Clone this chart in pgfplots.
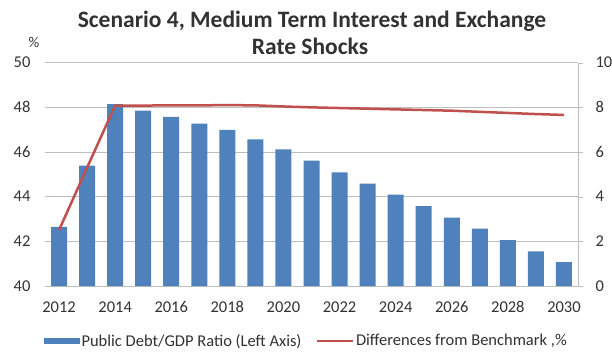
\documentclass[border=0pt]{standalone}
\usepackage{pgfplots}
\pgfplotsset{compat=1.18}
\usepackage{fontspec}
\setmainfont{Carlito}
\definecolor{barblue}{RGB}{79,129,189}
\definecolor{linered}{RGB}{192,80,77}
\definecolor{gridgray}{RGB}{190,190,190}
\definecolor{txtgray}{RGB}{50,50,50}
\begin{document}
\begin{tikzpicture}[x=1pt,y=1pt]
\useasboundingbox (0,0) rectangle (612,356);
\node[font=\bfseries\fontsize{23.5}{26}\selectfont, anchor=base, text=txtgray] at (312,328) {Scenario 4, Medium Term Interest and Exchange};
\node[font=\bfseries\fontsize{23.5}{26}\selectfont, anchor=base, text=txtgray] at (310,301) {Rate Shocks};
\node[font=\fontsize{15}{17}\selectfont, text=txtgray] at (34,314) {\%};
\begin{axis}[
  at={(45pt,70pt)}, anchor=south west,
  scale only axis, width=533pt, height=223.3pt,
  xmin=-0.5, xmax=18.5, ymin=40, ymax=50,
  ytick={40,42,...,50},
  xtick={0,2,...,18},
  xticklabels={2012,2014,2016,2018,2020,2022,2024,2026,2028,2030},
  axis x line*=bottom, axis y line*=left,
  x axis line style={draw=gridgray},
  y axis line style={draw=none},
  major tick length=0pt,
  ymajorgrids, grid style={gridgray},
  tick label style={font=\fontsize{16.5}{18}\selectfont, text=txtgray},
  /pgf/number format/assume math mode=true,
  yticklabel style={xshift=-11pt},
  xticklabel style={yshift=-12pt},
  legend style={draw=none, at={(0.49,-0.246)}, anchor=center,
    legend columns=2, font=\fontsize{16.5}{18}\selectfont, text=txtgray,
    inner xsep=0pt, nodes={inner xsep=2pt},
    /tikz/every even column/.append style={column sep=12pt}},
  legend cell align=left,
]
\addplot[ybar, bar width=16pt, fill=barblue, draw=none,
  legend image code/.code={\fill[barblue] (0pt,-3pt) rectangle (36pt,3pt);}]
  coordinates {
  (0,42.65) (1,45.39) (2,48.15) (3,47.85) (4,47.57) (5,47.27) (6,46.99)
  (7,46.57) (8,46.12) (9,45.61) (10,45.09) (11,44.58) (12,44.09) (13,43.58)
  (14,43.06) (15,42.57) (16,42.06) (17,41.55) (18,41.07)};
\addlegendentry{Public Debt/GDP Ratio (Left Axis)}
\addlegendimage{legend image code/.code={\draw[linered, line width=2.5pt] (0pt,0pt) -- (36pt,0pt);}}
\addlegendentry{Differences from Benchmark ,\%}
\end{axis}
\begin{axis}[
  at={(45pt,70pt)}, anchor=south west,
  scale only axis, width=533pt, height=223.3pt,
  xmin=-0.5, xmax=18.5, ymin=0, ymax=10,
  ytick={0,2,...,10},
  axis y line*=right, axis x line=none,
  y axis line style={draw=gridgray},
  ytick style={draw=gridgray},
  tick align=outside, major tick length=5pt,
  tick label style={font=\fontsize{16.5}{18}\selectfont, text=txtgray},
  /pgf/number format/assume math mode=true,
  yticklabel style={xshift=9pt},
]
\addplot[linered, line width=2.5pt] coordinates {
  (0,2.5) (1,5.3) (2,8.08) (3,8.08) (4,8.09) (5,8.09) (6,8.1) (7,8.09)
  (8,8.04) (9,8.0) (10,7.97) (11,7.94) (12,7.91) (13,7.88) (14,7.85)
  (15,7.8) (16,7.75) (17,7.7) (18,7.66)};
\end{axis}
\end{tikzpicture}
\end{document}
